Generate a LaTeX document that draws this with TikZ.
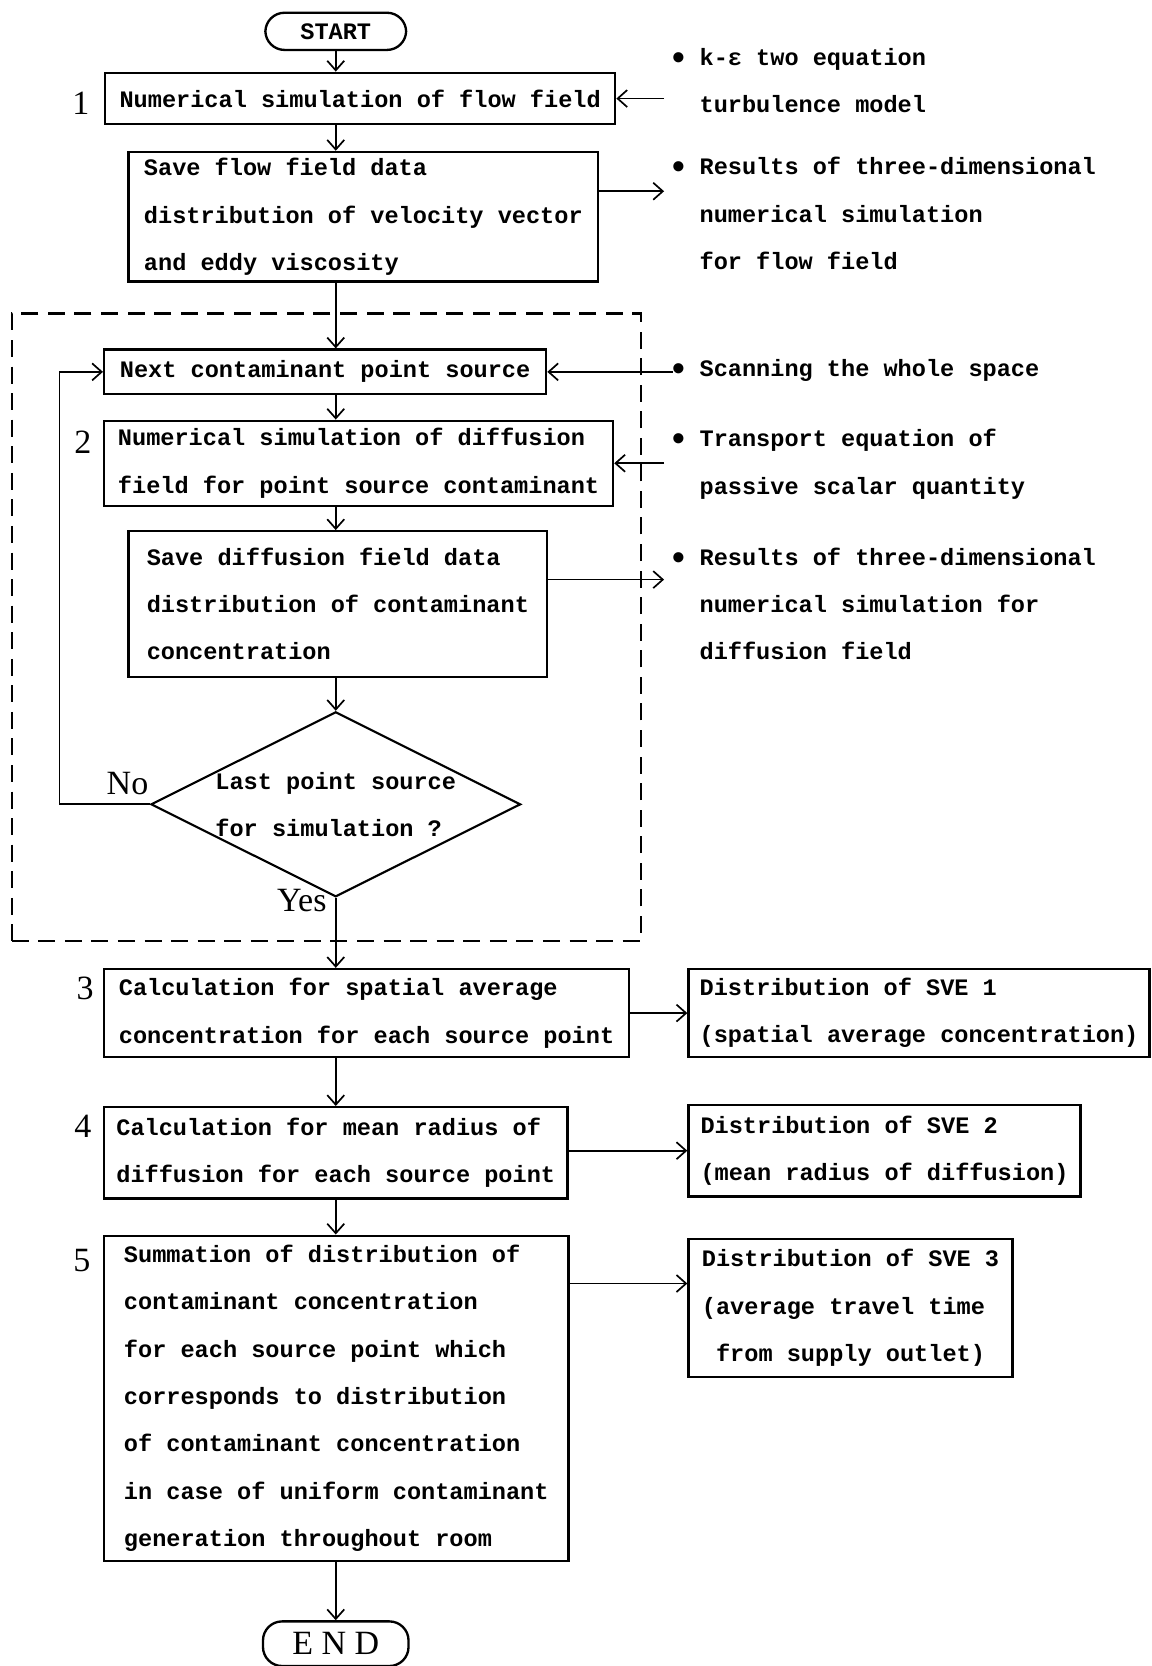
\documentclass[tikz,border=0pt]{standalone}
\usepackage{fontspec}
\setmainfont{Liberation Mono}
\newfontfamily\serifnum{Liberation Serif}
\usepackage{tikz}
\usetikzlibrary{positioning}
\usetikzlibrary{arrows.meta}
\usetikzlibrary{shapes}
\newcommand{\notedot}{\makebox[0.6em]{\raisebox{-0.16em}{\scalebox{1.5}{•}}}}
\tikzset{proc node/.style={draw,line width=1.1pt,align=left,inner sep=0pt,font={\fontsize{11.1pt}{22.25pt}\selectfont\bfseries}},}
\tikzset{term node/.style={draw,line width=1.1pt,rounded corners=9pt,inner sep=0pt},}
\tikzset{test node/.style={proc node,diamond,aspect=2,line width=1pt},}
\tikzset{note node/.style={anchor=west,align=left,inner sep=0pt,font={\fontsize{11.1pt}{22.25pt}\selectfont\bfseries}},}
\tikzset{num node/.style={inner sep=0pt,font={\serifnum\fontsize{16pt}{18pt}\selectfont}},}
\tikzset{loop frame/.style={draw,line width=1pt,dash pattern=on 8pt off 4.5pt,inner sep=0pt},}

\begin{document}
\begin{tikzpicture}[x=0.5pt,y=-0.5pt,line width=0.8pt,>={Straight Barb[length=4.5pt,width=8pt]}]
    \useasboundingbox (0,0) rectangle (1084,1568);
    \node[loop frame,minimum width=296pt,minimum height=295.5pt] (loopframe) at (307,590.5) {};

    % main column
    \node[term node,minimum width=66.25pt,minimum height=17.5pt,font={\fontsize{11.1pt}{13pt}\selectfont\bfseries}] (start) at (316,29.5) {START};
    \node[proc node,minimum width=240pt,minimum height=24.25pt] (flow) at (339,92.75) {Numerical simulation of flow field};
    \node[proc node,minimum width=221pt,minimum height=61pt] (saveflow) at (342,204) {Save flow field data\\distribution of velocity vector\\and eddy viscosity};
    \node[proc node,minimum width=208pt,minimum height=21pt] (nextsrc) at (306,350) {Next contaminant point source};
    \node[proc node,minimum width=239.5pt,minimum height=40pt] (diffsim) at (337.5,436) {Numerical simulation of diffusion\\field for point source contaminant};
    \node[proc node,minimum width=197pt,minimum height=68.5pt] (savediff) at (318,568.5) {Save diffusion field data\\distribution of contaminant\\concentration};
    \node[test node,minimum width=173.5pt,minimum height=85.5pt] (lastsrc) at (316,757) {Last point source\\for simulation ?};
    \node[proc node,minimum width=247pt,minimum height=41.5pt] (calcavg) at (345,953.5) {Calculation for spatial average\\concentration for each source point};
    \node[proc node,minimum width=218pt,minimum height=43pt] (calcrad) at (316,1085) {Calculation for mean radius of\\diffusion for each source point};
    \node[proc node,minimum width=218.5pt,minimum height=153pt] (summ) at (316.5,1316) {Summation of distribution of\\contaminant concentration\\for each source point which\\corresponds to distribution\\of contaminant concentration\\in case of uniform contaminant\\generation throughout room};
    \node[term node,minimum width=68.5pt,minimum height=21pt,font={\serifnum\fontsize{16pt}{18pt}\selectfont}] (theend) at (316,1547) {E N D};

    % step numbers and answers
    \node[num node] (num1) at (76,97) {1};
    \node[num node] (num2) at (78,416) {2};
    \node[num node] (num3) at (80,930) {3};
    \node[num node] (num4) at (78,1060) {4};
    \node[num node] (num5) at (77,1186) {5};
    \node[num node] (nolab) at (120,737) {No};
    \node[num node] (yeslab) at (284,848) {Yes};

    % right column
    \node[note node] (note1) at (631,76) {\notedot\ k-ε two equation\\\hphantom{•\ }turbulence model};
    \node[note node] (note2) at (631,201) {\notedot\ Results of three-dimensional\\\hphantom{•\ }numerical simulation\\\hphantom{•\ }for flow field};
    \node[note node] (note3) at (631,349) {\notedot\ Scanning the whole space};
    \node[note node] (note4) at (631,437) {\notedot\ Transport equation of\\\hphantom{•\ }passive scalar quantity};
    \node[note node] (note5) at (631,568.5) {\notedot\ Results of three-dimensional\\\hphantom{•\ }numerical simulation for\\\hphantom{•\ }diffusion field};
    \node[proc node,minimum width=217pt,minimum height=41.5pt] (sve1) at (865,953.5) {Distribution of SVE 1\\(spatial average concentration)};
    \node[proc node,minimum width=184.5pt,minimum height=43pt] (sve2) at (832.5,1083) {Distribution of SVE 2\\(mean radius of diffusion)};
    \node[proc node,minimum width=152.5pt,minimum height=65pt] (sve3) at (800.5,1231) {Distribution of SVE 3\\(average travel time\\\hphantom{x}from supply outlet)};

    \coordinate (note1in) at ([xshift=-3pt]note1.west);
    \coordinate (note2in) at ([xshift=-3pt]note2.west);
    \coordinate (note3in) at ([xshift=1pt]note3.west);
    \coordinate (note4in) at ([xshift=-3pt]note4.west);
    \coordinate (note5in) at ([xshift=-3pt]note5.west);
    \coordinate (saveflowout) at ([yshift=12pt]saveflow.east);
    \coordinate (savediffout) at ([yshift=11.5pt]savediff.east);
    \coordinate (sve3in) at ([yshift=11.5pt]sve3.west);
    \coordinate (loopx) at (56,757);

    \path[->]
    (start.south) edge (start.south |- flow.north)
    (flow.south -| start) edge (saveflow.north -| start)
    (saveflow.south -| start) edge (nextsrc.north -| start)
    (nextsrc.south -| start) edge (diffsim.north -| start)
    (diffsim.south -| start) edge (savediff.north -| start)
    (savediff.south -| start) edge (lastsrc.north)
    (lastsrc.south) edge (calcavg.north -| start)
    (calcavg.south -| start) edge (calcrad.north -| start)
    (calcrad.south -| start) edge (summ.north -| start)
    (summ.south -| start) edge (theend.north)
    (note1in |- flow.east) edge (flow.east)
    (saveflowout) edge (saveflowout -| note2in)
    (note3in |- nextsrc.east) edge (nextsrc.east)
    (note4in |- diffsim.east) edge (diffsim.east)
    (savediffout) edge (savediffout -| note5in)
    (calcavg.east |- sve1.west) edge (sve1.west)
    (calcrad.east |- sve2.west) edge (sve2.west)
    (sve3in -| summ.east) edge (sve3in);

    \draw[->] (lastsrc.west) -- (loopx) |- (nextsrc.west);
\end{tikzpicture}
\end{document}
